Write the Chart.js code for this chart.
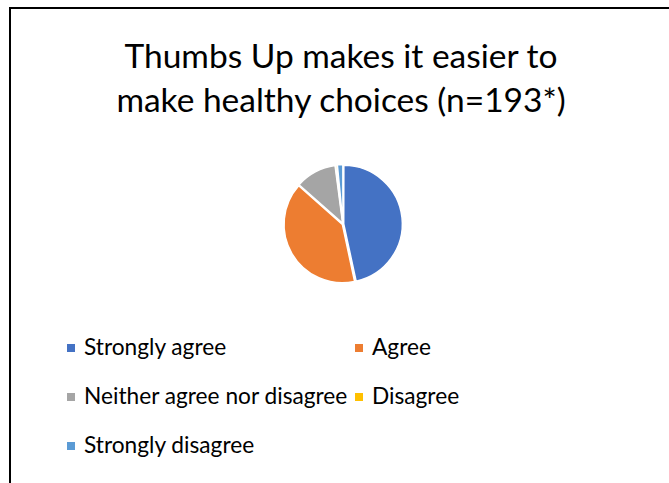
<!DOCTYPE html>
<html>
<head>
<meta charset="utf-8">
<script src="https://cdn.jsdelivr.net/npm/chart.js@4.4.1/dist/chart.umd.min.js"></script>
<style>
  html, body { margin: 0; padding: 0; background: #fff; width: 669px; height: 483px; overflow: hidden; }
  #frame { position: absolute; left: 9px; top: 7px; width: 720px; height: 600px; border: 2px solid #000; box-sizing: border-box; }
  .title { position: absolute; left: 0; width: 682px; text-align: center; font-family: Lato, "Open Sans", sans-serif; font-size: 33.5px; color: #000; white-space: nowrap; line-height: 36px; }
  #pieWrap { position: absolute; left: 273px; top: 154px; width: 140px; height: 140px; }
  .leg { position: absolute; font-family: Lato, "Open Sans", sans-serif; font-size: 22.7px; color: #000; white-space: nowrap; line-height: 26px; }
  .leg .sw { position: absolute; width: 8px; height: 8px; }
</style>
</head>
<body>
<div id="frame"></div>
<div id="titles"></div>
<div id="pieWrap"><canvas id="c" width="140" height="140"></canvas></div>
<div id="legend"></div>
<script>
const titleLines = ["Thumbs Up makes it easier to", "make healthy choices (n=193*)"];
const categories = ["Strongly agree", "Agree", "Neither agree nor disagree", "Disagree", "Strongly disagree"];
const responses = [90, 77, 22, 1, 3];
const colors = ["#4472C4", "#ED7D31", "#A5A5A5", "#FFC000", "#5B9BD5"];

// title
const titleTops = [37, 81];
const tdiv = document.getElementById('titles');
titleLines.forEach((t, i) => {
  const d = document.createElement('div');
  d.className = 'title';
  d.style.top = titleTops[i] + 'px';
  d.textContent = t;
  tdiv.appendChild(d);
});

const chart = new Chart(document.getElementById('c'), {
  type: 'pie',
  data: {
    labels: categories,
    datasets: [{
      data: responses,
      backgroundColor: colors,
      borderColor: '#ffffff',
      borderWidth: 1.5,
      offset: 3
    }]
  },
  options: {
    responsive: false,
    animation: false,
    radius: 58,
    layout: { padding: 0 },
    plugins: { legend: { display: false }, tooltip: { enabled: false }, title: { display: false } }
  }
});

// legend built from the chart's labels
const legPos = [
  { x: 67, y: 334 }, { x: 355, y: 334 },
  { x: 67, y: 383 }, { x: 355, y: 383 },
  { x: 67, y: 432 }
];
const items = chart.options.plugins.legend.labels.generateLabels(chart);
const ldiv = document.getElementById('legend');
items.forEach((it, i) => {
  const p = legPos[i];
  const d = document.createElement('div');
  d.className = 'leg';
  d.style.left = p.x + 'px';
  d.style.top = p.y + 'px';
  d.style.paddingLeft = '17px';
  const sw = document.createElement('span');
  sw.className = 'sw';
  sw.style.background = colors[i];
  sw.style.left = '0px';
  sw.style.top = '10px';
  d.appendChild(sw);
  d.appendChild(document.createTextNode(it.text));
  ldiv.appendChild(d);
});
</script>
</body>
</html>
